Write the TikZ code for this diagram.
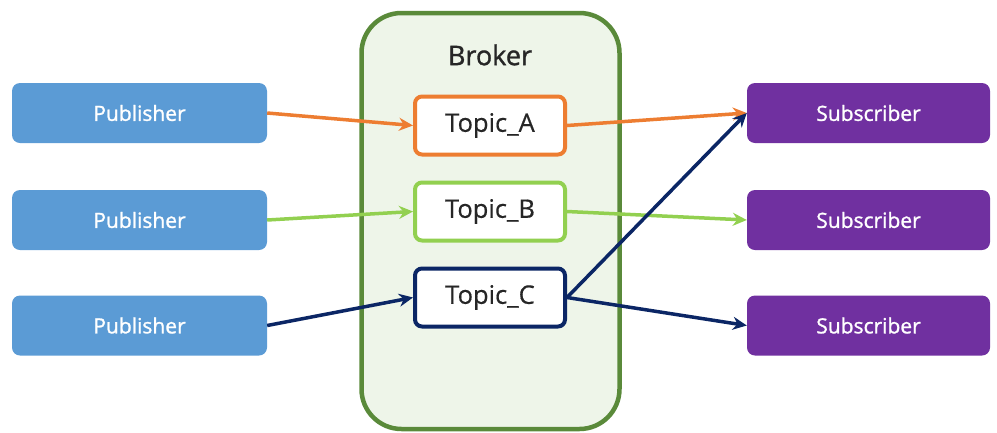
\documentclass[tikz,border=0pt]{standalone}
\usepackage{fontspec}
\setmainfont{Open Sans}
\newfontfamily\medfont[FakeBold=1.2]{Open Sans}
\newfontfamily\lightmed[FakeBold=0.5]{Open Sans}
\usetikzlibrary{arrows.meta}
\definecolor{pubblue}{HTML}{5B9BD5}
\definecolor{subpurple}{HTML}{7030A0}
\definecolor{brokerfill}{HTML}{EEF5E9}
\definecolor{brokerline}{HTML}{5A8A3A}
\definecolor{corange}{HTML}{ED7D31}
\definecolor{cgreen}{HTML}{92D050}
\definecolor{cnavy}{HTML}{0B2665}
\definecolor{textdark}{HTML}{262626}
\tikzset{
  pubbox/.style={rectangle, rounded corners=8pt, fill=pubblue, draw=none, minimum width=255pt, minimum height=60pt, text=white, font=\medfont\fontsize{21}{24}\selectfont, inner sep=0pt},
  subbox/.style={rectangle, rounded corners=8pt, fill=subpurple, draw=none, minimum width=243pt, minimum height=60pt, text=white, font=\medfont\fontsize{21}{24}\selectfont, inner sep=0pt},
  topicbox/.style={rectangle, rounded corners=7pt, fill=white, line width=4pt, minimum width=150pt, minimum height=58pt, text=textdark, font=\lightmed\fontsize{25.5}{28}\selectfont, inner sep=0pt},
  brokerbox/.style={rectangle, rounded corners=40pt, fill=brokerfill, draw=brokerline, line width=4.5pt, minimum width=258pt, minimum height=416pt, inner sep=0pt},
  conn/.style={line width=3.5pt, -{Stealth[length=14pt,width=13pt]}},
}
\begin{document}
\begin{tikzpicture}[x=1pt,y=-1pt]
\useasboundingbox (0,0) rectangle (997,432);
\node[brokerbox] (broker) at (490.5,221) {};
\node[text=textdark, font=\medfont\fontsize{27}{30}\selectfont] (brokerlabel) at (490,55) {Broker};

\node[pubbox] (p1) at (139.5,113) {Publisher};
\node[pubbox] (p2) at (139.5,220) {Publisher};
\node[pubbox] (p3) at (139.5,325.5) {Publisher};

\node[subbox] (s1) at (868.5,113) {Subscriber};
\node[subbox] (s2) at (868.5,220) {Subscriber};
\node[subbox] (s3) at (868.5,325.5) {Subscriber};

\node[topicbox, draw=corange] (ta) at (490,125.5) {Topic\_A};
\node[topicbox, draw=cgreen] (tb) at (490,211.5) {Topic\_B};
\node[topicbox, draw=cnavy] (tc) at (490,297.5) {Topic\_C};

\draw[conn, corange] (p1.east) -- (ta.west);
\draw[conn, cgreen] (p2.east) -- (tb.west);
\draw[conn, cnavy] (p3.east) -- (tc.west);

\draw[conn, corange] (ta.east) -- (s1.west);
\draw[conn, cgreen] (tb.east) -- (s2.west);
\draw[conn, cnavy] (tc.east) -- (s1.west);
\draw[conn, cnavy] (tc.east) -- (s3.west);
\end{tikzpicture}
\end{document}
